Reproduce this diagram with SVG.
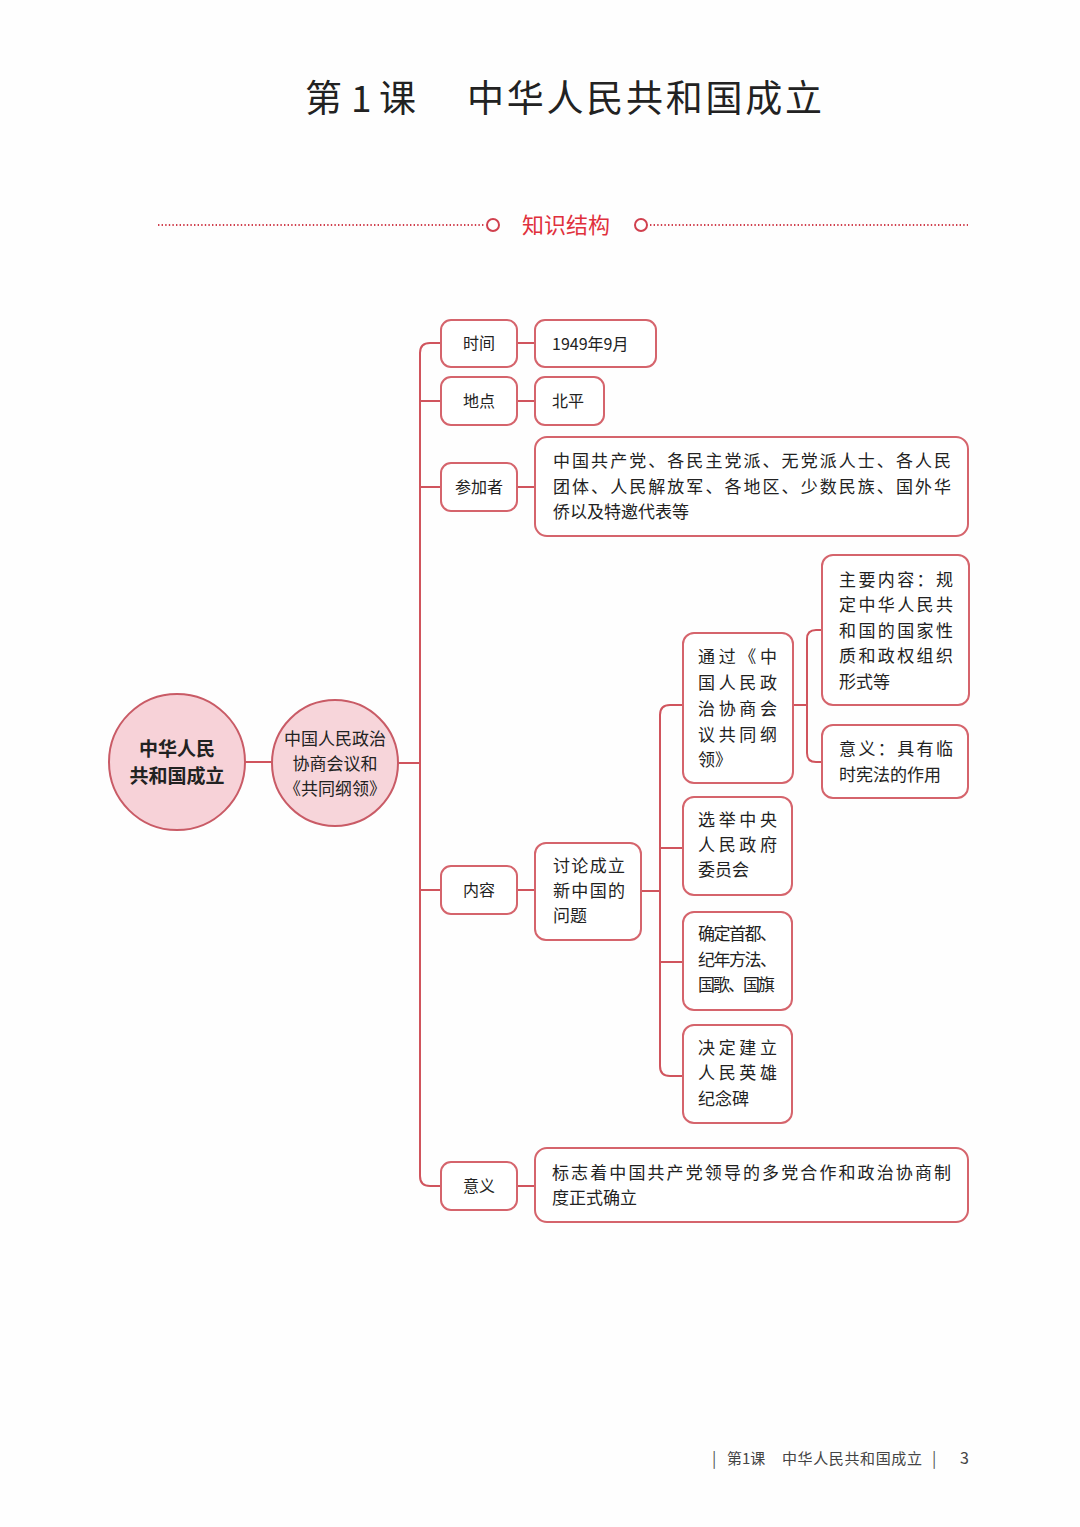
<svg xmlns="http://www.w3.org/2000/svg" width="1080" height="1527" viewBox="0 0 1080 1527">
<style>
.bg{fill:#fefefe}
.box{fill:#ffffff;stroke:#d5646c;stroke-width:2}
.circ{stroke:#c95b66;stroke-width:2}
.ln{fill:none;stroke:#d0545d;stroke-width:2}
.t{font-family:"Noto Sans CJK SC","Noto Sans",sans-serif;font-size:16px;fill:#222}
.tc{text-anchor:middle}
.b{font-size:17px}
.dot{fill:none;stroke:#d0404e;stroke-width:2.2;stroke-dasharray:1.4 2.2}
</style>
<rect class="bg" x="0" y="0" width="1080" height="1527"/>

<g id="title">
<text class="t" x="305" y="112" font-size="37" fill="#1a1a1a" style="font-size:37px">第</text>
<text class="t" x="351" y="112" style="font-size:37px">1</text>
<text class="t" x="379" y="112" style="font-size:37px">课</text>
<text class="t" x="467" y="112" style="font-size:37px" textLength="355" lengthAdjust="spacing">中华人民共和国成立</text>
</g>

<g id="section-header">
<line class="dot" x1="158" y1="225" x2="485" y2="225"/>
<circle cx="493" cy="225" r="6" fill="none" stroke="#d0404e" stroke-width="2"/>
<text class="t" x="566" y="233" style="font-size:22px;fill:#e0303c" text-anchor="middle">知识结构</text>
<circle cx="641" cy="225" r="6" fill="none" stroke="#d0404e" stroke-width="2"/>
<line class="dot" x1="650" y1="225" x2="968" y2="225"/>
</g>

<g id="connectors">
<line class="ln" x1="245" y1="762" x2="272" y2="762"/>
<line class="ln" x1="398" y1="763" x2="420" y2="763"/>
<path class="ln" d="M441,343 H430 Q420,343 420,353 V1176 Q420,1186 430,1186 H441"/>
<line class="ln" x1="420" y1="401" x2="441" y2="401"/>
<line class="ln" x1="420" y1="487" x2="441" y2="487"/>
<line class="ln" x1="420" y1="890" x2="441" y2="890"/>
<line class="ln" x1="517" y1="343" x2="535" y2="343"/>
<line class="ln" x1="517" y1="401" x2="535" y2="401"/>
<line class="ln" x1="517" y1="487" x2="535" y2="487"/>
<line class="ln" x1="517" y1="890" x2="535" y2="890"/>
<line class="ln" x1="517" y1="1186" x2="535" y2="1186"/>
<line class="ln" x1="641" y1="891" x2="660" y2="891"/>
<path class="ln" d="M683,705 H670 Q660,705 660,715 V1066 Q660,1076 670,1076 H683"/>
<line class="ln" x1="660" y1="848" x2="683" y2="848"/>
<line class="ln" x1="660" y1="962" x2="683" y2="962"/>
<line class="ln" x1="793" y1="705" x2="807" y2="705"/>
<path class="ln" d="M822,630 H816 Q807,630 807,639 V753 Q807,762 816,762 H822"/>
</g>

<g id="root">
<circle class="circ" cx="177" cy="762" r="68" fill="#f7d2d8"/>
<text class="t tc" x="177" y="756" style="font-size:19px;font-weight:bold">中华人民</text>
<text class="t tc" x="177" y="783" style="font-size:19px;font-weight:bold">共和国成立</text>
</g>

<g id="cppcc">
<circle class="circ" cx="335" cy="763" r="63" fill="#f7d5da"/>
<text class="t tc" x="335" y="745" style="font-size:17px">中国人民政治</text>
<text class="t tc" x="335" y="770" style="font-size:17px">协商会议和</text>
<text class="t tc" x="335" y="795" style="font-size:17px">《共同纲领》</text>
</g>

<g id="n-time">
<rect class="box" x="441" y="320" width="76" height="47" rx="10"/>
<text class="t tc" x="479" y="349">时间</text>
</g>
<g id="n-time-v">
<rect class="box" x="535" y="320" width="121" height="47" rx="10"/>
<text class="t" x="552" y="350">1949年9月</text>
</g>
<g id="n-place">
<rect class="box" x="441" y="377" width="76" height="48" rx="10"/>
<text class="t tc" x="479" y="407">地点</text>
</g>
<g id="n-place-v">
<rect class="box" x="535" y="377" width="69" height="48" rx="10"/>
<text class="t" x="552" y="407">北平</text>
</g>
<g id="n-part">
<rect class="box" x="441" y="463" width="76" height="48" rx="10"/>
<text class="t tc" x="479" y="493">参加者</text>
</g>
<g id="n-part-v">
<rect class="box" x="535" y="437" width="433" height="99" rx="12"/>
<text class="t b" x="553" y="467" textLength="398" lengthAdjust="spacing">中国共产党、各民主党派、无党派人士、各人民</text>
<text class="t b" x="553" y="493" textLength="398" lengthAdjust="spacing">团体、人民解放军、各地区、少数民族、国外华</text>
<text class="t b" x="553" y="518">侨以及特邀代表等</text>
</g>
<g id="n-content">
<rect class="box" x="441" y="866" width="76" height="48" rx="10"/>
<text class="t tc" x="479" y="896">内容</text>
</g>
<g id="n-discuss">
<rect class="box" x="535" y="843" width="106" height="97" rx="11"/>
<text class="t b" x="553" y="872" textLength="72" lengthAdjust="spacing">讨论成立</text>
<text class="t b" x="553" y="897" textLength="72" lengthAdjust="spacing">新中国的</text>
<text class="t b" x="553" y="922">问题</text>
</g>
<g id="n-program">
<rect class="box" x="683" y="633" width="110" height="150" rx="11"/>
<text class="t b" x="698" y="663" textLength="79" lengthAdjust="spacing">通过《中</text>
<text class="t b" x="698" y="689" textLength="79" lengthAdjust="spacing">国人民政</text>
<text class="t b" x="698" y="715" textLength="79" lengthAdjust="spacing">治协商会</text>
<text class="t b" x="698" y="741" textLength="79" lengthAdjust="spacing">议共同纲</text>
<text class="t b" x="698" y="766">领》</text>
</g>
<g id="n-program-main">
<rect class="box" x="822" y="555" width="147" height="150" rx="11"/>
<text class="t b" x="839" y="586" textLength="114" lengthAdjust="spacing">主要内容：规</text>
<text class="t b" x="839" y="611" textLength="114" lengthAdjust="spacing">定中华人民共</text>
<text class="t b" x="839" y="637" textLength="114" lengthAdjust="spacing">和国的国家性</text>
<text class="t b" x="839" y="662" textLength="114" lengthAdjust="spacing">质和政权组织</text>
<text class="t b" x="839" y="688">形式等</text>
</g>
<g id="n-program-sig">
<rect class="box" x="822" y="725" width="146" height="73" rx="11"/>
<text class="t b" x="839" y="755" textLength="114" lengthAdjust="spacing">意义：具有临</text>
<text class="t b" x="839" y="781">时宪法的作用</text>
</g>
<g id="n-elect">
<rect class="box" x="683" y="797" width="109" height="98" rx="11"/>
<text class="t b" x="698" y="826" textLength="79" lengthAdjust="spacing">选举中央</text>
<text class="t b" x="698" y="851" textLength="79" lengthAdjust="spacing">人民政府</text>
<text class="t b" x="698" y="876">委员会</text>
</g>
<g id="n-capital">
<rect class="box" x="683" y="912" width="109" height="98" rx="11"/>
<text class="t b" x="698" y="940" textLength="79" lengthAdjust="spacing">确定首都、</text>
<text class="t b" x="698" y="966" textLength="79" lengthAdjust="spacing">纪年方法、</text>
<text class="t b" x="698" y="991" textLength="77" lengthAdjust="spacing">国歌、国旗</text>
</g>
<g id="n-monument">
<rect class="box" x="683" y="1025" width="109" height="98" rx="11"/>
<text class="t b" x="698" y="1054" textLength="79" lengthAdjust="spacing">决定建立</text>
<text class="t b" x="698" y="1079" textLength="79" lengthAdjust="spacing">人民英雄</text>
<text class="t b" x="698" y="1105">纪念碑</text>
</g>
<g id="n-sig">
<rect class="box" x="441" y="1162" width="76" height="48" rx="10"/>
<text class="t tc" x="479" y="1192">意义</text>
</g>
<g id="n-sig-v">
<rect class="box" x="535" y="1148" width="433" height="74" rx="12"/>
<text class="t b" x="552" y="1179" textLength="399" lengthAdjust="spacing">标志着中国共产党领导的多党合作和政治协商制</text>
<text class="t b" x="552" y="1204">度正式确立</text>
</g>

<g id="footer">
<text class="t" x="712" y="1464" style="font-size:16px;fill:#555">|</text>
<text class="t" x="727" y="1464" style="font-size:15px;fill:#444">第1课</text>
<text class="t" x="782" y="1464" style="font-size:15px;fill:#444" textLength="140" lengthAdjust="spacing">中华人民共和国成立</text>
<text class="t" x="932" y="1464" style="font-size:16px;fill:#555">|</text>
<text class="t" x="960" y="1464" style="font-size:16px;fill:#444">3</text>
</g>
</svg>
